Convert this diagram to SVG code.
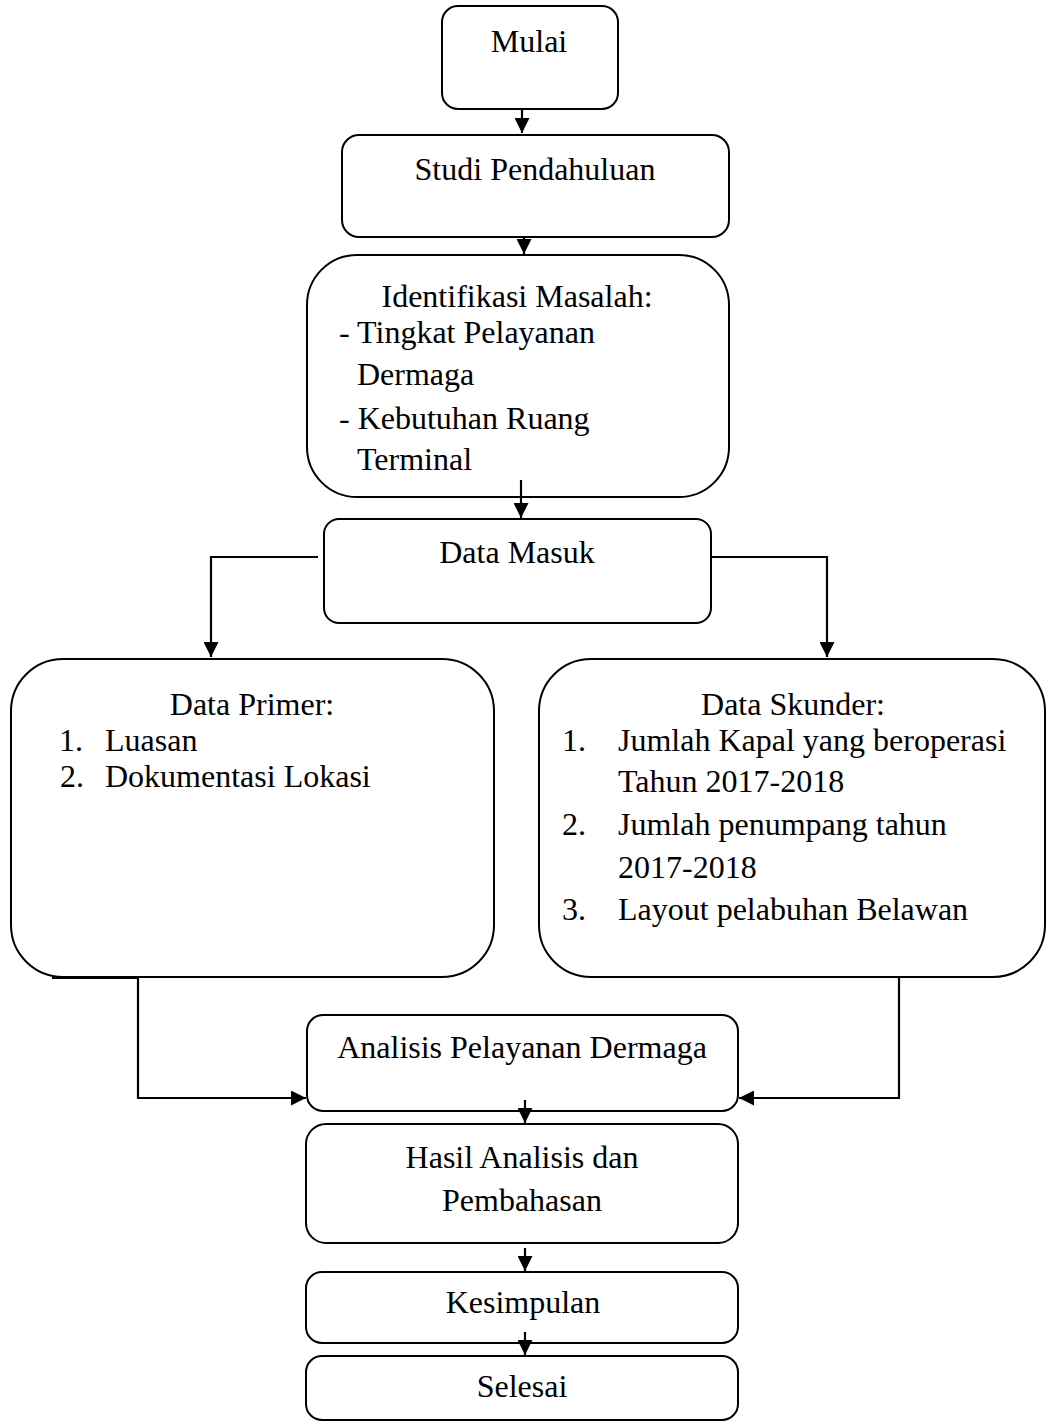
<svg xmlns="http://www.w3.org/2000/svg" width="1047" height="1421" viewBox="0 0 1047 1421">
<style>
.box{fill:#fff;stroke:#000;stroke-width:2}
.t{font-family:"Liberation Serif","Times New Roman",serif;font-size:32px;fill:#000}
.c{text-anchor:middle}
.ln{fill:none;stroke:#000;stroke-width:2.2}
</style>
<defs>
<marker id="ah" markerUnits="userSpaceOnUse" markerWidth="15" markerHeight="15" refX="15" refY="7.5" orient="auto">
<path d="M0,0 L15,7.5 L0,15 z" fill="#000"/>
</marker>
</defs>
<rect width="1047" height="1421" fill="#fff"/>
<g id="mulai">
<rect class="box" x="442" y="6" width="176" height="103" rx="16"/>
<text class="t c" x="529" y="52">Mulai</text>
</g>
<g id="studi">
<rect class="box" x="342" y="135" width="387" height="102" rx="17"/>
<text class="t c" x="535" y="180">Studi Pendahuluan</text>
</g>
<g id="identifikasi">
<rect class="box" x="307" y="255" width="422" height="242" rx="50"/>
<text class="t c" x="517" y="307">Identifikasi Masalah:</text>
<text class="t" x="339" y="343">- Tingkat Pelayanan</text>
<text class="t" x="357" y="385">Dermaga</text>
<text class="t" x="339" y="429">- Kebutuhan Ruang</text>
<text class="t" x="357" y="470">Terminal</text>
</g>
<g id="datamasuk">
<rect class="box" x="324" y="519" width="387" height="104" rx="15"/>
<text class="t c" x="517" y="563">Data Masuk</text>
</g>
<g id="primer">
<rect class="box" x="11" y="659" width="483" height="318" rx="52"/>
<text class="t c" x="252" y="715">Data Primer:</text>
<text class="t" x="59" y="751">1.</text>
<text class="t" x="105" y="751">Luasan</text>
<text class="t" x="60" y="787">2.</text>
<text class="t" x="105" y="787">Dokumentasi Lokasi</text>
</g>
<g id="skunder">
<rect class="box" x="539" y="659" width="506" height="318" rx="52"/>
<text class="t c" x="793" y="715">Data Skunder:</text>
<text class="t" x="562" y="751">1.</text>
<text class="t" x="618" y="751">Jumlah Kapal yang beroperasi</text>
<text class="t" x="618" y="792">Tahun 2017-2018</text>
<text class="t" x="562" y="835">2.</text>
<text class="t" x="618" y="835">Jumlah penumpang tahun</text>
<text class="t" x="618" y="878">2017-2018</text>
<text class="t" x="562" y="920">3.</text>
<text class="t" x="618" y="920">Layout pelabuhan Belawan</text>
</g>
<g id="analisis">
<rect class="box" x="307" y="1015" width="431" height="96" rx="16"/>
<text class="t c" x="522" y="1058">Analisis Pelayanan Dermaga</text>
</g>
<g id="hasil">
<rect class="box" x="306" y="1124" width="432" height="119" rx="20"/>
<text class="t c" x="522" y="1168">Hasil Analisis dan</text>
<text class="t c" x="522" y="1211">Pembahasan</text>
</g>
<g id="kesimpulan">
<rect class="box" x="306" y="1272" width="432" height="71" rx="16"/>
<text class="t c" x="523" y="1313">Kesimpulan</text>
</g>
<g id="selesai">
<rect class="box" x="306" y="1356" width="432" height="64" rx="16"/>
<text class="t c" x="522" y="1397">Selesai</text>
</g>
<g id="connectors">
<line class="ln" x1="522" y1="109" x2="522" y2="133" marker-end="url(#ah)"/>
<line class="ln" x1="524" y1="237" x2="524" y2="254" marker-end="url(#ah)"/>
<line class="ln" x1="521" y1="480" x2="521" y2="518" marker-end="url(#ah)"/>
<path class="ln" d="M318,557 H211 V657" marker-end="url(#ah)"/>
<path class="ln" d="M711,557 H827 V657" marker-end="url(#ah)"/>
<path class="ln" d="M52,978 H138 V1098 H306" marker-end="url(#ah)"/>
<path class="ln" d="M899,977 V1098 H739" marker-end="url(#ah)"/>
<line class="ln" x1="525" y1="1100" x2="525" y2="1123" marker-end="url(#ah)"/>
<line class="ln" x1="525" y1="1248" x2="525" y2="1271" marker-end="url(#ah)"/>
<line class="ln" x1="525" y1="1332" x2="525" y2="1355" marker-end="url(#ah)"/>
</g>
</svg>
